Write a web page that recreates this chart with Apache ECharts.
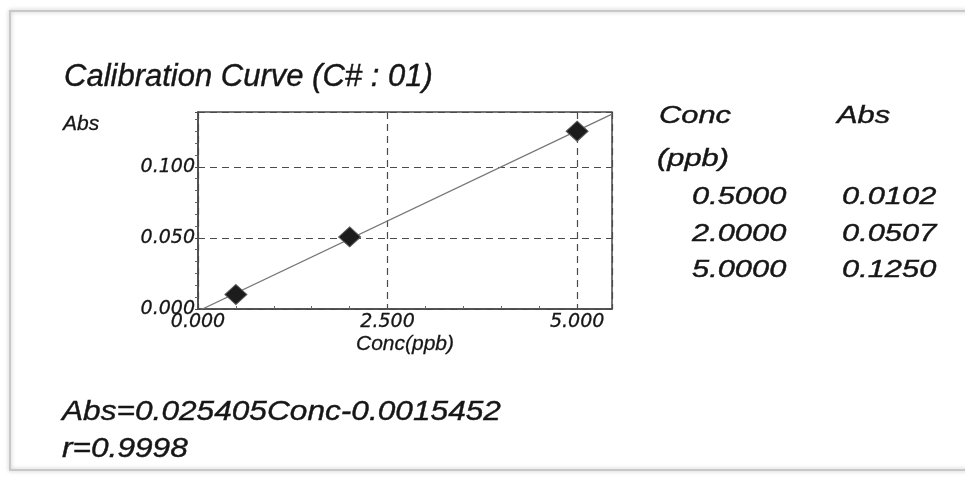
<!DOCTYPE html>
<html>
<head>
<meta charset="utf-8">
<script src="https://cdn.jsdelivr.net/npm/echarts@6/dist/echarts.min.js"></script>
<style>
  html, body { margin: 0; padding: 0; background: #ffffff; }
  #main { width: 965px; height: 477px; }
</style>
</head>
<body>
<div id="main"></div>
<script>
// calibration standards
const concValues = [0.5, 2.0, 5.0];
const absValues = [0.0102, 0.0507, 0.1250];
const concLabels = ['0.5000', '2.0000', '5.0000'];
const absLabels = ['0.0102', '0.0507', '0.1250'];

// fitted line, end points
const fitX = [0.0, 5.46];
const fitY = [-0.0015, 0.137];

const xMax = 5.46;
const yMax = 0.1385;
const equationText = 'Abs=0.025405Conc-0.0015452';
const corrText = 'r=0.9998';

const FONT = 'Liberation Sans, Arial, sans-serif';
const INK = '#161616';

let chart = echarts.init(document.getElementById('main'), null, {renderer: 'canvas'});

// right hand table, one text per cell
let tableGraphics = [];
function cell(text, x, y) {
  return {
    type: 'text', x: x, y: y, scaleX: 1.34,
    style: {
      text: text, font: 'italic 23px ' + FONT, fill: INK,
      stroke: INK, lineWidth: 0.4, textVerticalAlign: 'middle'
    }
  };
}
tableGraphics.push(cell('Conc', 659, 117));
tableGraphics.push(cell('Abs', 837, 117));
tableGraphics.push(cell('(ppb)', 657, 160));
concLabels.forEach((label, i) => {
  tableGraphics.push(cell(label, 692, 198 + i * 36.5));
  tableGraphics.push(cell(absLabels[i], 842, 198 + i * 36.5));
});

let option = {
  backgroundColor: '#ffffff',
  animation: false,
  grid: {
    left: 198,
    top: 112,
    width: 414,
    height: 197,
    show: true,
    borderColor: '#4a4a4a',
    borderWidth: 1.5
  },
  xAxis: {
    type: 'value',
    min: 0,
    max: xMax,
    interval: 2.5,
    name: 'Conc(ppb)',
    nameLocation: 'middle',
    nameGap: 24,
    nameTextStyle: {
      fontFamily: FONT, fontStyle: 'italic', fontSize: 21, color: INK,
      verticalAlign: 'top', textBorderColor: INK, textBorderWidth: 0.3
    },
    axisLine: {show: true, lineStyle: {color: '#4a4a4a', width: 1.5}},
    axisTick: {show: true, inside: true, length: 4, lineStyle: {color: '#4a4a4a'}},
    minorTick: {show: true, splitNumber: 5, length: 3, lineStyle: {color: '#666'}},
    axisLabel: {
      showMaxLabel: false,
      margin: 4,
      fontFamily: 'DejaVu Sans', fontStyle: 'italic', fontSize: 19, color: INK,
      textBorderColor: INK, textBorderWidth: 0.3,
      formatter: function (v) { return v.toFixed(3); }
    },
    splitLine: {show: true, lineStyle: {color: '#4a4a4a', type: [7, 5], width: 1.2}}
  },
  yAxis: {
    type: 'value',
    min: 0,
    max: yMax,
    interval: 0.05,
    axisLine: {show: true, lineStyle: {color: '#4a4a4a', width: 1.5}},
    axisTick: {show: true, inside: false, length: 3, lineStyle: {color: '#4a4a4a'}},
    minorTick: {show: true, splitNumber: 6, length: 3, lineStyle: {color: '#666'}},
    axisLabel: {
      showMaxLabel: false,
      margin: 3,
      fontFamily: 'DejaVu Sans', fontStyle: 'italic', fontSize: 19, color: INK,
      textBorderColor: INK, textBorderWidth: 0.3,
      formatter: function (v) { return v.toFixed(3); }
    },
    splitLine: {show: true, lineStyle: {color: '#4a4a4a', type: [7, 5], width: 1.2}}
  },
  series: [
    {
      type: 'line',
      data: fitX.map((x, i) => [x, fitY[i]]),
      showSymbol: false,
      clip: true,
      lineStyle: {color: '#777777', width: 1.2},
      z: 3
    },
    {
      type: 'scatter',
      data: concValues.map((c, i) => [c, absValues[i]]),
      symbol: 'diamond',
      symbolSize: [22, 20],
      itemStyle: {color: '#1c1c1c', borderColor: '#5a5a5a', borderWidth: 1, opacity: 1},
      z: 4
    }
  ],
  graphic: [
    // scanned page edge
    {
      type: 'rect',
      shape: {x: 10, y: 11, width: 980, height: 459},
      style: {fill: 'none', stroke: '#c8c8c8', lineWidth: 2, shadowColor: 'rgba(0,0,0,0.25)', shadowBlur: 4},
      z: -1
    },
    {
      type: 'text', x: 64, y: 77,
      style: {
        text: 'Calibration Curve (C# : 01)', font: 'italic 31px ' + FONT, fill: INK,
        stroke: INK, lineWidth: 0.4, textVerticalAlign: 'middle'
      }
    },
    {
      type: 'text', x: 63, y: 124,
      style: {
        text: 'Abs', font: 'italic 21px ' + FONT, fill: INK,
        stroke: INK, lineWidth: 0.3, textVerticalAlign: 'middle'
      }
    },
    {
      type: 'text', x: 62, y: 412, scaleX: 1.13,
      style: {
        text: equationText, font: 'italic 28px ' + FONT, fill: INK,
        stroke: INK, lineWidth: 0.4, textVerticalAlign: 'middle'
      }
    },
    {
      type: 'text', x: 62, y: 449, scaleX: 1.13,
      style: {
        text: corrText, font: 'italic 28px ' + FONT, fill: INK,
        stroke: INK, lineWidth: 0.4, textVerticalAlign: 'middle'
      }
    }
  ].concat(tableGraphics)
};

chart.setOption(option);
</script>
</body>
</html>
